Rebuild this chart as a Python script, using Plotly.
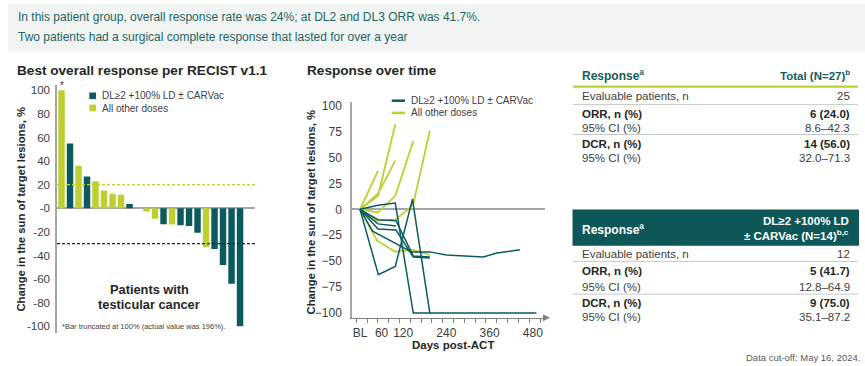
import plotly.graph_objects as go

W, H = 865, 366
def X(px): return px / W
def Y(py): return 1 - py / H

TEAL = "#0a5a5e"
LIME = "#bdd02f"
F = "Liberation Sans, Arial, sans-serif"

# ---------------- data: waterfall ----------------
patient_idx = list(range(1, 23))
bar_values = [100, 55, 36, 27, 23, 15, 12.3, 11.5, 3.7, 0, -2.7, -8.8, -13.5, -13.8,
              -14.3, -14.9, -20.7, -33.1, -34.5, -48, -64, -100]
bar_groups = ["O", "D", "O", "D", "O", "O", "O", "O", "D", "D", "O", "O", "D", "O",
              "D", "D", "D", "O", "D", "D", "D", "D"]
bar_ticks = [100, 80, 60, 40, 20, 0, -20, -40, -60, -80, -100]
bar_ticktext = ["100", "80", "60", "40", "20", "-0", "-20", "-40", "-60", "-80", "-100"]

# ---------------- data: spider plot ----------------
teal_days = [
    [0, 50, 98, 148, 490],
    [0, 51, 98, 146, 150, 194],
    [0, 35, 100, 143, 194, 240, 343, 380, 444],
    [0, 50, 100, 148, 194],
    [0, 50, 100, 148, 194],
    [0, 50, 100],
]
teal_vals = [
    [0, 4, 6, -100, -100],
    [0, -63, -55, 10, 0, -100],
    [0, -21, -33, -41, -41, -44, -46, -42, -39],
    [0, -10, -11, -45, -46],
    [0, -19, -20, -46, -47],
    [0, -14, -16],
]
lime_days = [
    [0, 50],
    [0, 50, 98],
    [0, 50, 98],
    [0, 50, 98, 148],
    [0, 45, 98, 134, 148, 194],
    [0, 47, 98, 148, 194],
]
lime_vals = [
    [0, 37],
    [0, 13, 82],
    [0, 15, 47],
    [0, -3, 13, 66],
    [0, -11, -10, 0, 5, 76],
    [0, -30, -41, -39, -44],
]
line_yticks = [100, 75, 50, 25, 0, -25, -50, -75, -100]
line_xticks = [0, 60, 120, 240, 360, 480]
line_xticktext = ["BL", "60", "120", "240", "360", "480"]

fig = go.Figure()

for grp, col in [("D", TEAL), ("O", LIME)]:
    xs = [patient_idx[i] for i, g in enumerate(bar_groups) if g == grp]
    ys = [bar_values[i] for i, g in enumerate(bar_groups) if g == grp]
    fig.add_trace(go.Bar(x=xs, y=ys, width=0.76, marker=dict(color=col, line=dict(width=0)),
                         xaxis="x", yaxis="y", showlegend=False, hoverinfo="skip"))

for d, v in zip(lime_days, lime_vals):
    fig.add_trace(go.Scatter(x=d, y=v, mode="lines", line=dict(color=LIME, width=1.8),
                             xaxis="x2", yaxis="y2", showlegend=False, hoverinfo="skip"))
for d, v in zip(teal_days, teal_vals):
    fig.add_trace(go.Scatter(x=d, y=v, mode="lines", line=dict(color=TEAL, width=1.5),
                             xaxis="x2", yaxis="y2", showlegend=False, hoverinfo="skip"))

AX = "#a6a6a6"
fig.update_layout(
    width=W, height=H, margin=dict(l=0, r=0, t=0, b=0),
    paper_bgcolor="white", plot_bgcolor="rgba(0,0,0,0)",
    font=dict(family=F, color="#404040"), showlegend=False, barmode="overlay",
    xaxis=dict(domain=[X(57), X(255)], range=[0.47, 23.76], showticklabels=False,
               showgrid=False, zeroline=False, showline=False, fixedrange=True),
    yaxis=dict(domain=[Y(334), Y(82)], range=[-105.25, 104.75], tickvals=bar_ticks,
               ticktext=bar_ticktext, showgrid=False, zeroline=True, zerolinecolor=AX,
               zerolinewidth=1.5, showline=True, linecolor=AX, linewidth=1.5, ticks="",
               ticklabelstandoff=3, tickfont=dict(size=11.5, color="#404040")),
    xaxis2=dict(domain=[X(352), X(545)], range=[-22.2, 513.9], tickvals=line_xticks,
                ticktext=line_xticktext, ticks="", showgrid=False, zeroline=False,
                showline=True, linecolor="#808080", linewidth=1, anchor="y2",
                tickfont=dict(size=12, color="#404040"), ticklabelstandoff=4,
                minor=dict(tick0=-10, dtick=30, ticks="outside", ticklen=4,
                           tickcolor="#808080", showgrid=False)),
    yaxis2=dict(domain=[Y(319), Y(100)], range=[-104.5, 103.1], tickvals=line_yticks,
                showgrid=False, zeroline=True, zerolinecolor=AX, zerolinewidth=1.5,
                showline=True, linecolor=AX, linewidth=1.5, ticks="", anchor="x2",
                ticklabelstandoff=6, tickfont=dict(size=12, color="#404040")),
)

shapes = []
ann = []

def text(x, y, s, size, color="#404040", xanchor="left", bold=False, font=F, **kw):
    ann.append(dict(x=X(x), y=Y(y), xref="paper", yref="paper", text=("<b>%s</b>" % s) if bold else s,
                    showarrow=False, xanchor=xanchor, yanchor="middle",
                    font=dict(size=size, color=color, family=font), **kw))

def hline(x0, x1, y, color, width, dash=None):
    ln = dict(color=color, width=width)
    if dash:
        ln["dash"] = dash
    shapes.append(dict(type="line", xref="paper", yref="paper", x0=X(x0), x1=X(x1),
                       y0=Y(y), y1=Y(y), line=ln))

def rect(x0, y0, x1, y1, color):
    shapes.append(dict(type="rect", xref="paper", yref="paper", x0=X(x0), x1=X(x1),
                       y0=Y(y1), y1=Y(y0), fillcolor=color, line=dict(width=0), layer="below"))

# header band
rect(8, 0, 865, 48, "#f2f4f4")
text(16, 13, "In this patient group, overall response rate was 24%; at DL2 and DL3 ORR was 41.7%.",
     12, color="#1c6663")
text(16, 34, "Two patients had a surgical complete response that lasted for over a year",
     12, color="#1c6663")

# waterfall decorations
shapes.append(dict(type="line", xref="x domain", yref="y", x0=0, x1=1, y0=20, y1=20,
                   line=dict(color=LIME, width=1.2, dash="3px,2px")))
shapes.append(dict(type="line", xref="x domain", yref="y", x0=0, x1=1, y0=-30, y1=-30,
                   line=dict(color="#222222", width=1.2, dash="3px,2px")))
text(61.5, 83, "*", 10, xanchor="center")
text(15, 68, "Best overall response per RECIST v1.1", 13.6, color="#262626", bold=True)
rect(89.3, 90, 96, 96.7, TEAL)
rect(89.3, 102.3, 96, 109, LIME)
text(100, 93.5, "DL≥2 +100% LD ± CARVac", 10)
text(100, 105.8, "All other doses", 10)
text(149, 290, "Patients with", 12.8, color="#262626", xanchor="center", bold=True)
text(149, 305, "testicular cancer", 12.8, color="#262626", xanchor="center", bold=True)
text(60, 328, "*Bar truncated at 100% (actual value was 196%).", 7.5)
ann.append(dict(x=X(21), y=Y(209), xref="paper", yref="paper", xanchor="center", yanchor="middle",
                text="<b>Change in the sun of target lesions, %</b>", showarrow=False,
                textangle=-90, font=dict(size=11.3, color="#262626", family=F)))

# spider decorations
text(305, 67.5, "Response over time", 13.6, color="#262626", bold=True)
hline(391.7, 405, 98.3, TEAL, 2.5)
hline(391.7, 405, 110.7, LIME, 2.5)
text(409, 98.5, "DL≥2 +100% LD ± CARVac", 10)
text(409, 110.8, "All other doses", 10)
shapes.append(dict(type="path", xref="paper", yref="paper",
                   path="M %f,%f L %f,%f L %f,%f Z" % (X(550), Y(319), X(543), Y(315.5), X(543), Y(322.5)),
                   fillcolor="#808080", line=dict(width=0)))
ann.append(dict(x=X(311), y=Y(212), xref="paper", yref="paper", xanchor="center", yanchor="middle",
                text="<b>Change in the sun of target lesions, %</b>", showarrow=False,
                textangle=-90, font=dict(size=11.3, color="#262626", family=F)))
text(452.5, 347, "Days post-ACT", 11.5, color="#262626", xanchor="center", bold=True)

# table 1
HC = "#155c5c"
TL, TR = 573, 858
LX, RX = 580, 852
text(LX, 72.3, "Response<sup>a</sup>", 12, color=HC, bold=True)
text(RX, 72.3, "Total (N=27)<sup>b</sup>", 11.5, color=HC, bold=True, xanchor="right")
hline(TL, TR, 84, LIME, 2.2)
text(LX, 93.7, "Evaluable patients, n", 11.5)
text(RX, 93.7, "25", 11.5, xanchor="right")
hline(TL, TR, 102.3, "#c8c8c8", 1)
text(LX, 112.3, "ORR, n (%)", 11.5, color="#262626", bold=True)
text(RX, 112.3, "6 (24.0)", 11.5, color="#262626", bold=True, xanchor="right")
text(LX, 125.7, "95% CI (%)", 11.5)
text(RX, 125.7, "8.6–42.3", 11.5, xanchor="right")
hline(TL, TR, 132.7, "#c8c8c8", 1)
text(LX, 142.3, "DCR, n (%)", 11.5, color="#262626", bold=True)
text(RX, 142.3, "14 (56.0)", 11.5, color="#262626", bold=True, xanchor="right")
text(LX, 156.7, "95% CI (%)", 11.5)
text(RX, 156.7, "32.0–71.3", 11.5, xanchor="right")

# table 2
rect(572.5, 209, 859, 245.7, "#0d5758")
text(LX, 228.3, "Response<sup>a</sup>", 12, color="white", bold=True)
text(851, 221, "DL≥2 +100% LD", 11.5, color="white", bold=True, xanchor="right")
text(851, 235, "± CARVac (N=14)<sup>b,c</sup>", 11.5, color="white", bold=True, xanchor="right")
text(LX, 254.3, "Evaluable patients, n", 11.5)
text(RX, 254.3, "12", 11.5, xanchor="right")
hline(TL, TR, 261.7, "#c8c8c8", 1)
text(LX, 271.7, "ORR, n (%)", 11.5, color="#262626", bold=True)
text(RX, 271.7, "5 (41.7)", 11.5, color="#262626", bold=True, xanchor="right")
text(LX, 287.3, "95% CI (%)", 11.5)
text(RX, 287.3, "12.8–64.9", 11.5, xanchor="right")
hline(TL, TR, 295, "#c8c8c8", 1)
text(LX, 304, "DCR, n (%)", 11.5, color="#262626", bold=True)
text(RX, 304, "9 (75.0)", 11.5, color="#262626", bold=True, xanchor="right")
text(LX, 318.3, "95% CI (%)", 11.5)
text(RX, 318.3, "35.1–87.2", 11.5, xanchor="right")
text(862, 359.5, "Data cut-off: May 16, 2024.", 9.5, color="#595959", xanchor="right")

fig.update_layout(shapes=shapes, annotations=ann)
fig.write_html("out.html", config={"displayModeBar": False},
               post_script="document.body.style.margin='0px';document.body.style.overflow='hidden';")
